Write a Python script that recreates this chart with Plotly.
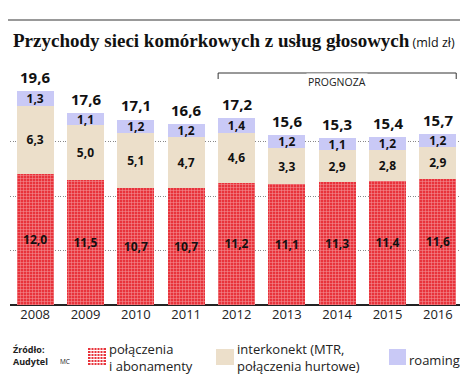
import plotly.graph_objects as go

years = ["2008", "2009", "2010", "2011", "2012", "2013", "2014", "2015", "2016"]
polaczenia = [12.0, 11.5, 10.7, 10.7, 11.2, 11.1, 11.3, 11.4, 11.6]
interkonekt = [6.3, 5.0, 5.1, 4.7, 4.6, 3.3, 2.9, 2.8, 2.9]
roaming = [1.3, 1.1, 1.2, 1.2, 1.4, 1.2, 1.1, 1.2, 1.2]
totals = [19.6, 17.6, 17.1, 16.6, 17.2, 15.6, 15.3, 15.4, 15.7]

RED = "#e8333b"
BEIGE = "#ecdfca"
LAV = "#c9c9f6"
SANS = "Open Sans"

W, H = 468, 378
L, R, T, B = 2, 13, 79, 81
PW, PH = W - L - R, H - T - B

def xp(px):
    return (px - L) / PW

def yp(py):
    return (H - B - py) / PH

x = list(range(len(years)))
fig = go.Figure()
common = dict(width=0.73, textposition="inside", insidetextanchor="middle",
              textangle=0, texttemplate="%{y:.1f}",
              textfont=dict(family=SANS, size=12, color="#111", weight="bold"),
              hoverinfo="skip", cliponaxis=False)
fig.add_trace(go.Bar(x=x, y=polaczenia, name="połączenia i abonamenty",
                     marker=dict(color=RED, line=dict(width=0),
                                 pattern=dict(shape="+", fgcolor="white", bgcolor=RED,
                                              size=3, solidity=0.3)), **common))
fig.add_trace(go.Bar(x=x, y=interkonekt, name="interkonekt",
                     marker=dict(color=BEIGE, line=dict(width=0)), **common))
fig.add_trace(go.Bar(x=x, y=roaming, name="roaming",
                     marker=dict(color=LAV, line=dict(width=0)), **common))

annotations = []
for i, t in enumerate(totals):
    annotations.append(dict(x=i, y=t, xref="x", yref="y", text=f"{t:.1f}".replace(".", ","),
                            showarrow=False, yanchor="bottom", yshift=2,
                            font=dict(family=SANS, size=15, color="#111", weight="bold")))

# Title
annotations.append(dict(x=xp(3), y=yp(33), xref="paper", yref="paper", xanchor="left",
                        yanchor="middle", showarrow=False,
                        text="<b>Przychody sieci komórkowych z usług głosowych</b>"
                             "<span style='font-family:Open Sans;font-size:12.5px'> (mld zł)</span>",
                        font=dict(family="Liberation Serif", size=19, color="#111")))

# Prognoza bracket
bx0, bx1 = 4 - 0.365, 8 + 0.365
annotations.append(dict(x=6, y=yp(65), xref="x", yref="paper", text="PROGNOZA",
                        showarrow=False, bgcolor="white", borderpad=1,
                        font=dict(family=SANS, size=10.5, color="#222")))

# Source
annotations.append(dict(x=xp(3), y=yp(347), xref="paper", yref="paper", xanchor="left",
                        yanchor="middle", showarrow=False, align="left",
                        text="<b>Źródło:<br>Audytel</b>",
                        font=dict(family=SANS, size=9, color="#222")))
annotations.append(dict(x=xp(50), y=yp(353), xref="paper", yref="paper", xanchor="left",
                        yanchor="middle", showarrow=False, text="MC",
                        font=dict(family=SANS, size=6.5, color="#222")))

# Legend texts
annotations.append(dict(x=xp(99), y=yp(349), xref="paper", yref="paper", xanchor="left",
                        yanchor="middle", showarrow=False, align="left",
                        text="połączenia<br>i abonamenty",
                        font=dict(family=SANS, size=13, color="#222")))
annotations.append(dict(x=xp(227), y=yp(349), xref="paper", yref="paper", xanchor="left",
                        yanchor="middle", showarrow=False, align="left",
                        text="interkonekt (MTR,<br>połączenia hurtowe)",
                        font=dict(family=SANS, size=13, color="#222")))
annotations.append(dict(x=xp(399), y=yp(352), xref="paper", yref="paper", xanchor="left",
                        yanchor="middle", showarrow=False, align="left",
                        text="roaming",
                        font=dict(family=SANS, size=13, color="#222")))

shapes = []
# top rule
shapes.append(dict(type="line", xref="paper", yref="paper", x0=xp(0), x1=xp(455),
                   y0=yp(12), y1=yp(12), line=dict(color="#777", width=1.5)))
# bracket
for (a0, a1, b0, b1) in [(bx0, bx1, 65, 65), (bx0, bx0, 65, 71), (bx1, bx1, 65, 71)]:
    shapes.append(dict(type="line", xref="x", yref="paper", x0=a0, x1=a1,
                       y0=yp(b0), y1=yp(b1), line=dict(color="#333", width=1)))
# legend swatches
shapes.append(dict(type="rect", xref="paper", yref="paper", x0=xp(80), x1=xp(98),
                   y0=yp(357), y1=yp(340), fillcolor=RED, line=dict(width=0)))
for k in range(1, 6):
    shapes.append(dict(type="line", xref="paper", yref="paper", x0=xp(80 + 3 * k), x1=xp(80 + 3 * k),
                       y0=yp(357), y1=yp(340), line=dict(color="white", width=1)))
    shapes.append(dict(type="line", xref="paper", yref="paper", x0=xp(80), x1=xp(98),
                       y0=yp(340 + 3 * k - 0.5), y1=yp(340 + 3 * k - 0.5), line=dict(color="white", width=1)))
shapes.append(dict(type="rect", xref="paper", yref="paper", x0=xp(208), x1=xp(226),
                   y0=yp(357), y1=yp(341), fillcolor=BEIGE, line=dict(width=0)))
shapes.append(dict(type="rect", xref="paper", yref="paper", x0=xp(381), x1=xp(398),
                   y0=yp(357), y1=yp(341), fillcolor=LAV, line=dict(width=0)))

fig.update_layout(
    width=W, height=H, margin=dict(l=L, r=R, t=T, b=B),
    barmode="stack", bargap=0.27, showlegend=False,
    plot_bgcolor="white", paper_bgcolor="white",
    separators=", ",
    uniformtext=dict(minsize=12, mode="show"),
    annotations=annotations, shapes=shapes,
    xaxis=dict(range=[-0.5, 8.5], tickmode="array", tickvals=x, ticktext=years,
               showgrid=False, zeroline=False, showline=False, ticks="",
               tickfont=dict(family=SANS, size=13, color="#222")),
    yaxis=dict(range=[0, 20], tickvals=[0, 5, 10, 15, 20], showticklabels=False,
               showgrid=True, gridcolor="#888", griddash="1px,1.5px", gridwidth=1,
               zeroline=True, zerolinecolor="#222", zerolinewidth=2, showline=False),
)
fig.write_html("out.html")
